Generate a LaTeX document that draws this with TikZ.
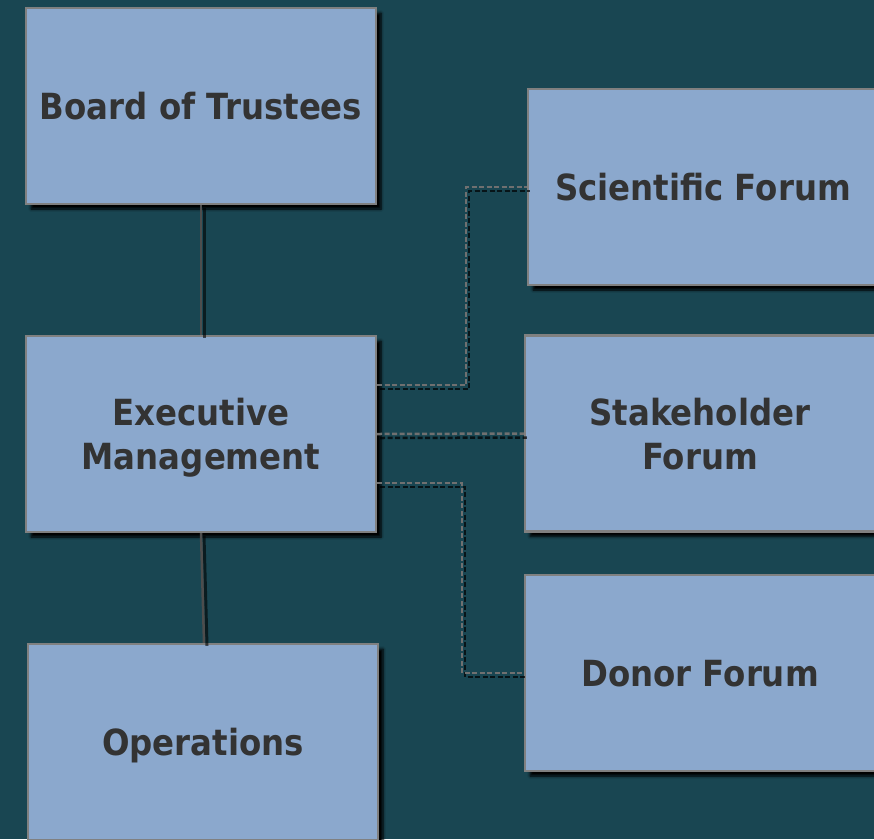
\documentclass[tikz,border=0pt]{standalone}
\usepackage{fontspec}
\newfontfamily\boxfont{DejaVu Sans}[FakeStretch=0.9]
\usetikzlibrary{shadows.blur,calc}
\definecolor{bg}{RGB}{25,70,82}
\definecolor{boxfill}{RGB}{139,168,205}
\definecolor{boxline}{RGB}{128,128,128}
\definecolor{txt}{RGB}{51,51,51}
\definecolor{solidln}{RGB}{77,77,77}
\definecolor{dashln}{RGB}{112,112,112}
\tikzset{
  orgbox/.style={draw=boxline, line width=2.2pt, fill=boxfill,
    minimum width=350pt, minimum height=196pt, inner sep=0pt,
    align=center, text=txt, text depth=0pt,
    font=\boxfont\bfseries\fontsize{36}{44}\selectfont,
    blur shadow={shadow xshift=5pt, shadow yshift=-5pt, shadow blur steps=6, shadow blur radius=2.5pt, shadow opacity=100}},
  solidconn/.style={draw=solidln, line width=2.5pt,
    preaction={draw=black, opacity=.6, line width=3pt, transform canvas={xshift=3pt,yshift=-3pt}}},
  dashconn/.style={draw=dashln, line width=2.5pt, dash pattern=on 5pt off 2.5pt,
    preaction={draw=black, opacity=.7, line width=2.5pt, dash pattern=on 5pt off 2.5pt, transform canvas={xshift=3pt,yshift=-4pt}}}
}
\begin{document}
\begin{tikzpicture}[x=1pt,y=-1pt]
\path[use as bounding box, fill=bg] (0,0) rectangle (874,839);
\clip (0,0) rectangle (874,839);

\node[orgbox] (board) at (201,106) {Board of Trustees};
\node[orgbox] (exec) at (201,434) {Executive\\Management};
\node[orgbox] (ops) at (203,742) {Operations};
\node[orgbox] (sci) at (703,187) {Scientific Forum};
\node[orgbox] (stake) at (700,433.5) {Stakeholder\\Forum};
\node[orgbox] (donor) at (700,673) {Donor Forum};

\draw[solidconn] (board.south) -- (exec.north);
\draw[solidconn] (exec.south) -- ([xshift=1pt]ops.north);

\draw[dashconn] ($(exec.east)+(0,-49)$) -- ++(89,0) |- (sci.west);
\draw[dashconn] (exec.east) -- (stake.west);
\draw[dashconn] ($(exec.east)+(0,49)$) -- ++(85,0) |- (donor.west);
\end{tikzpicture}
\end{document}
